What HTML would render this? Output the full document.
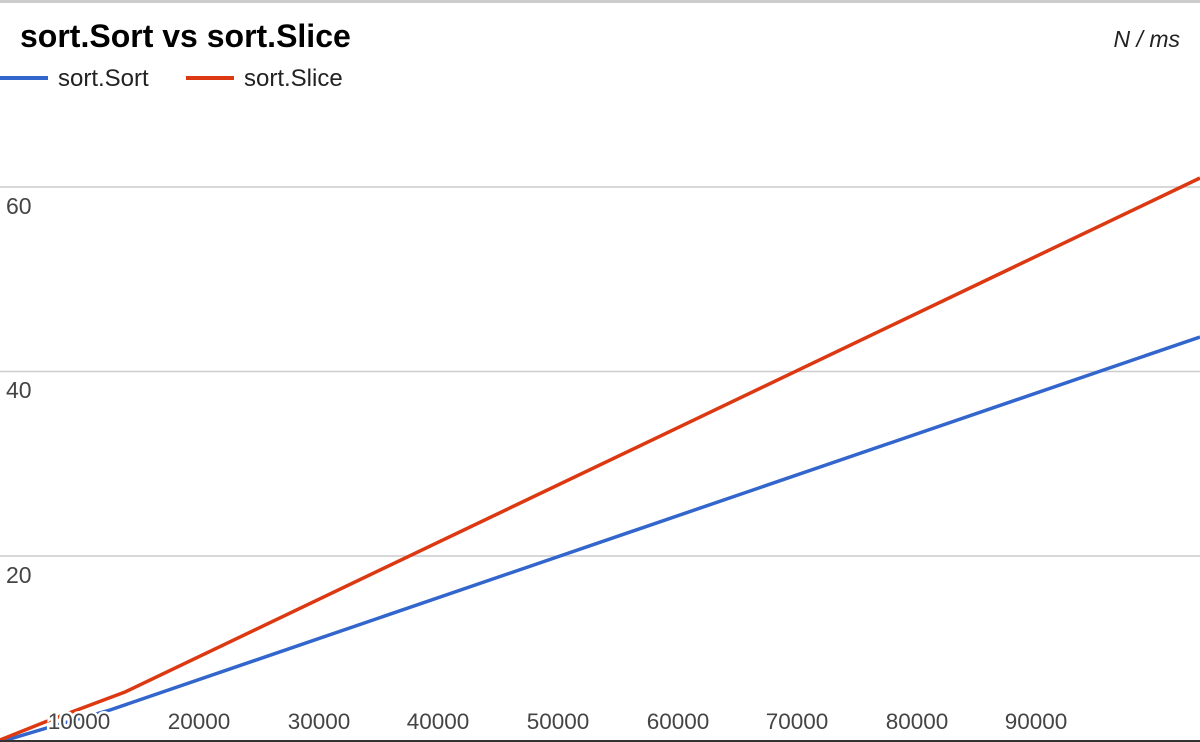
<!DOCTYPE html>
<html><head><style>
html,body{margin:0;padding:0;background:#fff;}
svg{display:block;font-family:"Liberation Sans",Arial,sans-serif;}
</style></head><body>
<svg width="1200" height="742" viewBox="0 0 1200 742">
<rect x="0" y="0" width="1200" height="742" fill="#fff"/>
<line x1="0" y1="1.5" x2="1200" y2="1.5" stroke="#ccc" stroke-width="3"/>
<text x="20" y="47" font-size="32" font-weight="bold" fill="#000">sort.Sort vs sort.Slice</text>
<text x="1180" y="47" font-size="23" font-style="italic" fill="#222" text-anchor="end">N / ms</text>
<line x1="0" y1="78" x2="48" y2="78" stroke="#3366cc" stroke-width="4"/>
<text x="58" y="86" font-size="24" fill="#222">sort.Sort</text>
<line x1="186" y1="78" x2="234" y2="78" stroke="#dc3912" stroke-width="4"/>
<text x="244" y="86" font-size="24" fill="#222">sort.Slice</text>
<g stroke="#ccc" stroke-width="1.5">
<line x1="0" y1="187" x2="1200" y2="187"/>
<line x1="0" y1="371.5" x2="1200" y2="371.5"/>
<line x1="0" y1="556" x2="1200" y2="556"/>
</g>
<g font-size="23" fill="#444">
<text x="6" y="214">60</text>
<text x="6" y="398">40</text>
<text x="6" y="583">20</text>
</g>
<polyline points="0,742 50,727 110,710 1200,337" fill="none" stroke="#3366cc" stroke-width="3.5"/>
<polyline points="0,740 45,722 125,692 1200,178" fill="none" stroke="#dc3912" stroke-width="3.5"/>
<g font-size="22.5" fill="#444" text-anchor="middle" stroke="#fff" stroke-width="5" paint-order="stroke">
<text x="79" y="729">10000</text>
<text x="199" y="729">20000</text>
<text x="319" y="729">30000</text>
<text x="438" y="729">40000</text>
<text x="558" y="729">50000</text>
<text x="678" y="729">60000</text>
<text x="797" y="729">70000</text>
<text x="917" y="729">80000</text>
<text x="1036" y="729">90000</text>
</g>
<line x1="0" y1="741" x2="1200" y2="741" stroke="#333" stroke-width="2"/>
</svg>
</body></html>
